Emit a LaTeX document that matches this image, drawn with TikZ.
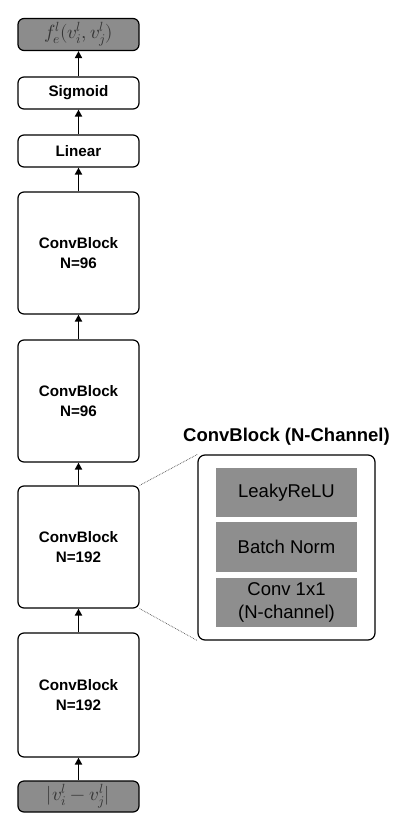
\documentclass[tikz,border=0pt]{standalone}
\usepackage{fontspec}
\setmainfont{Liberation Sans}
\usepackage{unicode-math}
\setmathfont{Latin Modern Math}
\usetikzlibrary{arrows.meta}
\definecolor{boxgray}{HTML}{8C8C8C}
\definecolor{innergray}{HTML}{8E8E8E}
\begin{document}
\begin{tikzpicture}[x=1pt,y=-1pt,
  blk/.style={draw=black, line width=1.2pt, rounded corners=6pt, fill=white, minimum width=121pt, inner sep=0pt, align=center, font=\fontsize{15.2}{20.5}\selectfont\bfseries},
  gblk/.style={blk, fill=boxgray, text=black!80, font=\fontsize{19}{22}\selectfont},
  inner/.style={fill=innergray, minimum width=141pt, inner sep=0pt, align=center, font=\fontsize{18.5}{23}\selectfont},
  arr/.style={-{Triangle[length=7pt,width=7pt]}, line width=1.9pt},
  dots/.style={densely dotted, line width=0.7pt, draw=black!70}
]
\useasboundingbox (0,0) rectangle (419,829);
\node[gblk, minimum height=32pt] (out) at (78.5,34.5) {$f_e^l(v_i^l,v_j^l)$};
\node[blk, minimum height=32pt] (sig) at (78.5,93) {Sigmoid};
\node[blk, minimum height=32pt] (lin) at (78.5,151) {Linear};
\node[blk, minimum height=122pt] (c1) at (78.5,253) {ConvBlock\\N=96};
\node[blk, minimum height=122pt] (c2) at (78.5,401) {ConvBlock\\N=96};
\node[blk, minimum height=122pt] (c3) at (78.5,547) {ConvBlock\\N=192};
\node[blk, minimum height=124pt] (c4) at (78.5,695) {ConvBlock\\N=192};
\node[gblk, minimum height=31pt] (in) at (78.5,796.5) {$|v_i^l-v_j^l|$};

\draw[arr] (in.north) -- (c4.south);
\draw[arr] (c4.north) -- (c3.south);
\draw[arr] (c3.north) -- (c2.south);
\draw[arr] (c2.north) -- (c1.south);
\draw[arr] (c1.north) -- (lin.south);
\draw[arr] (lin.north) -- (sig.south);
\draw[arr] (sig.north) -- (out.south);

\node[draw=black, line width=1.2pt, rounded corners=7pt, minimum width=177pt, minimum height=185pt, inner sep=0pt] (cb) at (286.5,547.5) {};
\node[font=\fontsize{18.5}{22}\selectfont\bfseries] (cbt) at (286.5,437) {ConvBlock (N-Channel)};
\node[inner, minimum height=49pt] (lr) at (286.5,492.5) {LeakyReLU};
\node[inner, minimum height=50pt] (bn) at (286.5,547) {Batch Norm};
\node[inner, minimum height=49pt] (cv) at (286.5,602.5) {Conv 1x1\\(N-channel)};

\draw[dots] (c3.north east) -- (cb.north west);
\draw[dots] (c3.south east) -- (cb.south west);
\end{tikzpicture}
\end{document}
